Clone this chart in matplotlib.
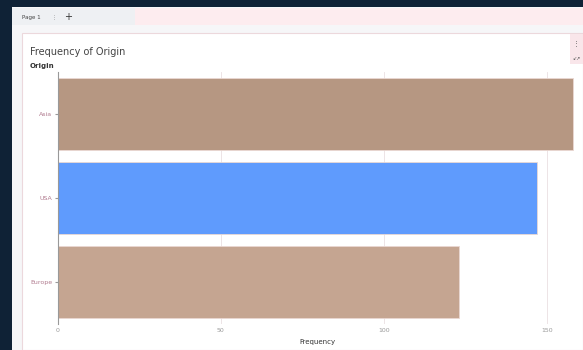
import matplotlib.pyplot as plt
from matplotlib.patches import Rectangle

categories = ['Asia', 'USA', 'Europe']
counts = [158, 147, 123]
bar_colors = ['#b69782', '#5f9bfd', '#c5a591']
xticks = [0, 50, 100, 150]

W, H = 583, 350
fig = plt.figure(figsize=(W / 100, H / 100), dpi=100)
fig.patch.set_facecolor('#0f2236')


def px(x, y, w, h, color, **kw):
    # rectangle in pixel coords (origin top left)
    fig.add_artist(Rectangle((x / W, 1 - (y + h) / H), w / W, h / H,
                             transform=fig.transFigure, facecolor=color,
                             edgecolor=kw.pop('ec', 'none'), lw=kw.pop('lw', 0),
                             zorder=-5, **kw))


# page chrome
px(12, 7, 571, 343, '#f6f6f8')
px(135, 8, 448, 17, '#fdecef')
px(12, 8, 123, 17, '#eef0f3')
px(22, 33, 561, 317, 'white', ec='#ecd8dc', lw=0.8)
px(570, 34, 13, 30, '#f9e6ea')
fig.text(22 / W, 1 - 17 / H, 'Page 1', fontsize=4, color='#444444', va='center')
fig.text(52 / W, 1 - 17 / H, '⋮', fontsize=4, color='#888888', va='center')
fig.text(64 / W, 1 - 17 / H, '+', fontsize=7, color='#333333', va='center')
fig.text(576 / W, 1 - 43 / H, '⋮', fontsize=5, color='#555555', va='center', ha='center')
fig.text(576 / W, 1 - 58 / H, '↙↗', fontsize=3.5, color='#555555', va='center', ha='center')
fig.text(30 / W, 1 - 52 / H, 'Frequency of Origin', fontsize=7, color='#444444', va='center')
fig.text(30 / W, 1 - 66 / H, 'Origin', fontsize=5, color='#333333', va='center',
         fontweight='bold')

ax = fig.add_axes([58 / W, 1 - 324 / H, 518 / W, 252 / H])
ax.set_zorder(5)
ax.set_facecolor('none')
ypos = list(range(len(categories)))[::-1]
ax.barh(ypos, counts, height=0.86, color=bar_colors, edgecolor='#ead8d2',
        linewidth=0.6, zorder=2)
ax.set_ylim(-0.5, 2.5)
ax.set_xlim(0, 159)
ax.set_yticks(ypos)
ax.set_yticklabels(categories, fontsize=4.5, color='#b07a8e')
ax.set_xticks(xticks)
ax.set_xticklabels([str(t) for t in xticks], fontsize=4.5, color='#999999')
ax.set_xlabel('Frequency', fontsize=5, color='#333333', labelpad=4)
ax.grid(axis='x', color='#eadfe2', lw=0.6, zorder=0)
for s in ['top', 'right', 'bottom']:
    ax.spines[s].set_visible(False)
ax.spines['left'].set_color('#999999')
ax.spines['left'].set_linewidth(0.8)
ax.tick_params(axis='y', length=2, color='#999999', pad=2)
ax.tick_params(axis='x', length=0, pad=3)

fig.savefig('out.png', dpi=100, facecolor=fig.get_facecolor())
